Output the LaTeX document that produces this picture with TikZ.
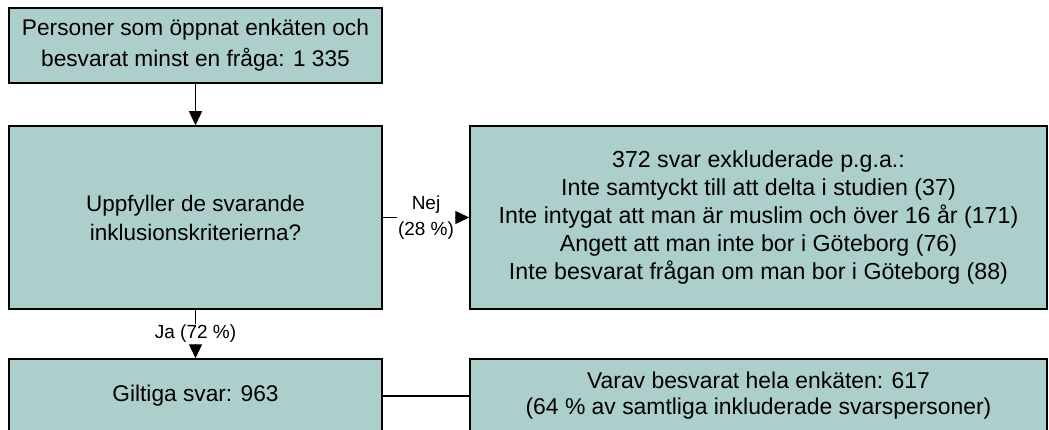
\documentclass[tikz,border=0pt]{standalone}
\usepackage{fontspec}
\setmainfont{Liberation Sans}
\usetikzlibrary{arrows.meta}
\definecolor{boxfill}{RGB}{173,207,203}

\begin{document}
\begin{tikzpicture}[x=1pt,y=-1pt,
  box/.style={draw,line width=1.5pt,fill=boxfill,align=center,inner sep=0pt},
  link/.style={line width=1.3pt,-{Triangle[length=14pt,width=13pt]}},
  lbl/.style={fill=white,inner sep=1pt,align=center,font=\fontsize{19}{26}\selectfont}]
\useasboundingbox (0,0) rectangle (1049,430);
\clip (0,0) rectangle (1049,430);

\node[box,minimum width=373pt,minimum height=75pt,font=\fontsize{22.7}{31}\selectfont] (start) at (195.5,45.5)
  {Personer som öppnat enkäten och\\besvarat minst en fråga: 1 335};
\node[box,minimum width=373pt,minimum height=183pt,font=\fontsize{22.5}{29}\selectfont] (crit) at (195.5,217.5)
  {Uppfyller de svarande\\inklusionskriterierna?};
\node[box,minimum width=577pt,minimum height=183pt,font=\fontsize{23.2}{28}\selectfont] (excl) at (758.5,217.5)
  {372 svar exkluderade p.g.a.:\\
   Inte samtyckt till att delta i studien (37)\\
   Inte intygat att man är muslim och över 16 år (171)\\
   Angett att man inte bor i Göteborg (76)\\
   Inte besvarat frågan om man bor i Göteborg (88)};
\node[box,minimum width=373pt,minimum height=74pt,font=\fontsize{22.7}{26}\selectfont] (valid) at (195.5,396)
  {Giltiga svar: 963};
\node[box,minimum width=577pt,minimum height=74pt,font=\fontsize{22.9}{26}\selectfont] (full) at (758.5,396)
  {Varav besvarat hela enkäten: 617\\(64 \% av samtliga inkluderade svarspersoner)};

\draw[link] (start) -- (crit);
\draw[link] (crit.east) -- node[lbl] (nej) {Nej\\(28 \%)} (excl.west);
\draw[link] (crit) -- node[lbl] (ja) {Ja (72 \%)} (valid);
\draw[line width=1.3pt] (valid) -- (full);
\end{tikzpicture}
\end{document}
